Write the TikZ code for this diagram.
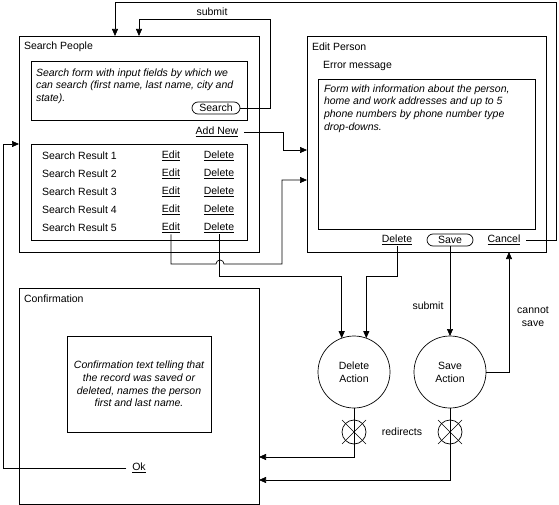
\documentclass[tikz,border=0pt]{standalone}
\usepackage{fontspec}
\setmainfont{Liberation Sans}
\usetikzlibrary{arrows.meta, calc}

\begin{document}
\begin{tikzpicture}[
  x=1pt, y=-1pt,
  >={Triangle[length=7pt,width=6pt]},
  line width=0.7pt,
  every node/.style={font=\fontsize{10.5}{12.8}\selectfont, inner sep=0pt, outer sep=0pt},
  panel/.style={draw, minimum width=240pt, minimum height=216pt},
  frame/.style={draw},
  title/.style={anchor=west},
  note/.style={font=\fontsize{10.5}{12.8}\selectfont\itshape},
  link/.style={inner xsep=6pt, inner ysep=1.5pt},
  button/.style={draw, rounded corners=6pt, minimum width=48pt, minimum height=12pt},
  action/.style={draw, circle, minimum size=72pt, align=center},
  cross/.style={draw, circle, minimum size=24pt}
]
\useasboundingbox (0,0) rectangle (559,505);

% Search People
\node[panel] (search) at (139,144) {};
\node[title] (searchTitle) at (24,47) {Search People};
\node[frame, minimum width=216pt, minimum height=59pt] (form) at (139,90.5) {};
\node[note, anchor=north west, align=left] (formText) at (36,68.4)
  {Search form with input fields by which we\\can search (first name, last name, city and\\state).};
\node[button] (searchbtn) at (216,108) {Search};
\node[link] (addnew) at (217,132) {\underline{Add New}};
\node[frame, minimum width=216pt, minimum height=96pt] (results) at (139,192) {};
\foreach \i [evaluate=\i as \y using 138+18*\i] in {1,...,5} {
  \node[anchor=west] (res\i) at (42,\y) {Search Result \i};
  \node[link] (edit\i) at (171,\y) {\underline{Edit}};
  \node[link] (del\i) at (219,\y) {\underline{Delete}};
}

% Edit Person
\node[panel, minimum width=239pt] (edit) at (426.5,144) {};
\node[title] (editTitle) at (312,47) {Edit Person};
\node[title] (error) at (323,66) {Error message};
\node[frame, minimum width=217pt, minimum height=150pt] (personForm) at (426.5,154) {};
\node[note, anchor=north west, align=left] (personText) at (324,84.5)
  {Form with information about the person,\\home and work addresses and up to 5\\phone numbers by phone number type\\drop-downs.};
\node[link] (delete) at (397,240) {\underline{Delete}};
\node[button, minimum width=46pt] (save) at (450,240) {Save};
\node[link] (cancel) at (504,240) {\underline{Cancel}};

% Confirmation
\node[panel] (confirm) at (139,396) {};
\node[title] (confirmTitle) at (24,299) {Confirmation};
\node[frame, note, minimum width=144pt, minimum height=96pt, align=center] (confirmText) at (139,384)
  {Confirmation text telling that\\the record was saved or\\deleted, names the person\\first and last name.};
\node[link] (ok) at (139,468) {\underline{Ok}};

% Actions
\node[action] (delAct) at (354,372) {Delete\\Action};
\node[action] (saveAct) at (450,372) {Save\\Action};
\node (redirects) at (402,432) {redirects};

% Entry points
\coordinate (inA) at (115,36);
\coordinate (inB) at (139,36);
\coordinate (inC) at (19,144);
\coordinate (inD) at (307,150);
\coordinate (inE) at (307,180);
\coordinate (inF) at (509,252);
\coordinate (inG) at (259,457);
\coordinate (inH) at (259,480);
\coordinate (jA) at (0,276);

% Arrows
\draw[->] (cancel.east) -| (556,2) -| (inA);
\draw[->] (searchbtn.east) -| (270,19) -| (inB);
\node (submitA) at (212,12) {submit};
\draw[->] (ok.west) -| (3,144) -- (inC);
\draw[->] (addnew.east) -| (283,150) -- (inD);
\draw[->] (edit5.south) |- (216,264) arc[start angle=180, end angle=360, radius=4] -| (282,180) -- (inE);
\draw[->] (del5.south) |- (jA -| delAct.110) -- (delAct.110);
\draw[->] (delete.south) |- (jA -| delAct.70) -- (delAct.70);
\draw[->] (save.south) -- (saveAct.north);
\node (submitB) at (428,306) {submit};
\draw[->] (saveAct.east) -| (inF);
\node[align=center] (noSave) at (533,317) {cannot\\save};
\draw[->] (delAct.south) |- (inG);
\draw[->] (saveAct.south) |- (inH);

% Redirect markers
\node[cross] (delX) at (354,432) {};
\node[cross] (saveX) at (450,432) {};
\foreach \n in {delX, saveX} {
  \draw[line width=0.5pt] ($(\n.center)+(-12,-12)$) -- ($(\n.center)+(12,12)$);
  \draw[line width=0.5pt] ($(\n.center)+(-12,12)$) -- ($(\n.center)+(12,-12)$);
}
\end{tikzpicture}
\end{document}
